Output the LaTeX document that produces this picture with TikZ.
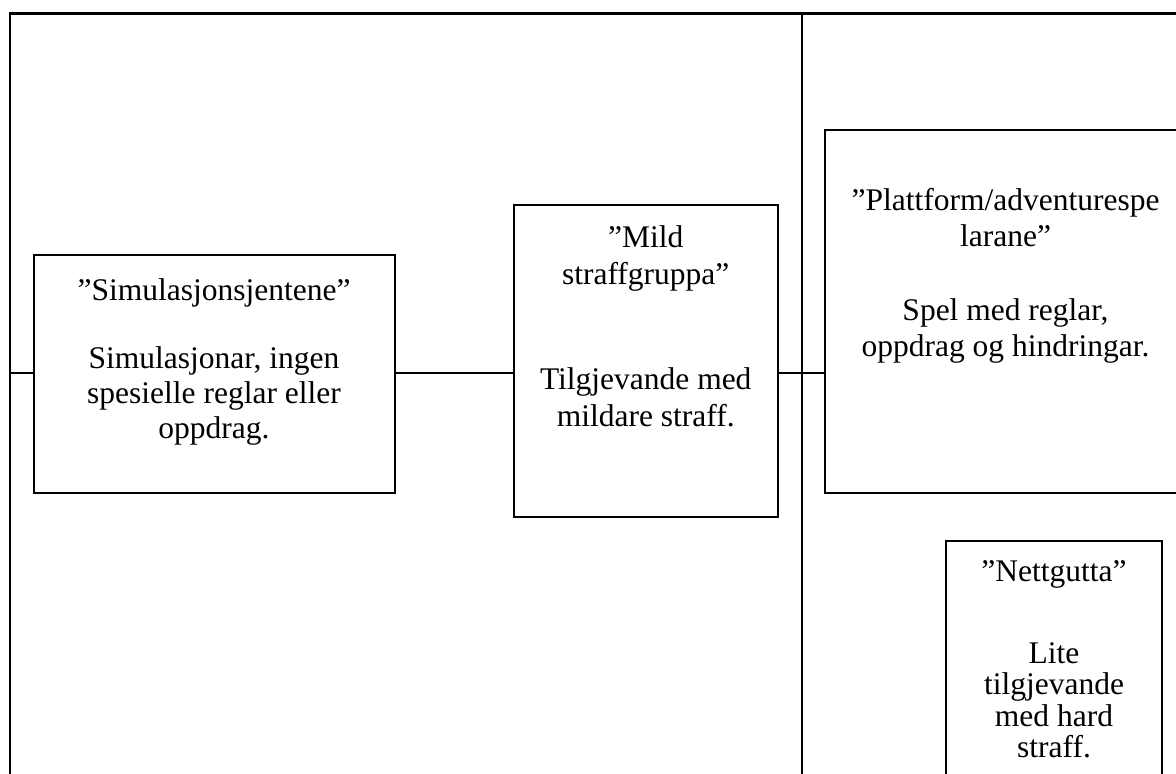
\documentclass[tikz,border=0pt]{standalone}
\usepackage{fontspec}
\setmainfont{Liberation Serif}
\begin{document}
\begin{tikzpicture}[x=1pt,y=-1pt,
  box/.style={draw, line width=2pt, fill=white, inner sep=0pt, rectangle},
  conn/.style={line width=1.4pt},
  frame/.style={line width=2.2pt},
  lbl/.style={anchor=base, align=center, inner sep=0pt, font=\fontsize{31.5}{#1}\selectfont}]
\useasboundingbox (0,0) rectangle (1176,774);
\clip (0,0) rectangle (1176,774);
\fill[white] (0,0) rectangle (1176,774);
% outer frame and divider
\coordinate (fbl) at (10,800);
\coordinate (ftl) at (10,13.5);
\coordinate (ftr) at (1200,13.5);
\coordinate (vt) at (802,13.5);
\coordinate (vb) at (802,800);
\draw[frame] (fbl) -- (ftl) -- (ftr);
\draw[frame] (vt) -- (vb);
% boxes
\node[box, minimum width=361pt, minimum height=238pt] (b1) at (214,374) {};
\node[box, minimum width=264.5pt, minimum height=312pt] (b2) at (645.75,361) {};
\node[box, minimum width=361pt, minimum height=363pt] (b3) at (1005.5,311.5) {};
\node[box, minimum width=216.6pt, minimum height=259pt] (b4) at (1054,670.5) {};
% connectors
\coordinate (L) at (10,373);
\draw[conn] (L) -- (L -| b1.west);
\draw[conn] (b1.east |- L) -- (b2.west |- L);
\draw[conn] (b2.east |- L) -- (b3.west |- L);
% texts (anchor base = baseline of the last line)
\node[lbl=35] (t1) at (214,438) {”Simulasjonsjentene”\\[33pt]Simulasjonar, ingen\\spesielle reglar eller\\oppdrag.};
\node[lbl=37] (t2) at (645.75,426) {”Mild\\straffgruppa”\\[68pt]Tilgjevande med\\mildare straff.};
\node[lbl=36.5] (t3) at (1005.5,356.5) {”Plattform/adventurespe\\larane”\\[37pt]Spel med reglar,\\oppdrag og hindringar.};
\node[lbl=31.5] (t4) at (1054,757.5) {”Nettgutta”\\[50.5pt]Lite\\tilgjevande\\med hard\\straff.};
\end{tikzpicture}
\end{document}
